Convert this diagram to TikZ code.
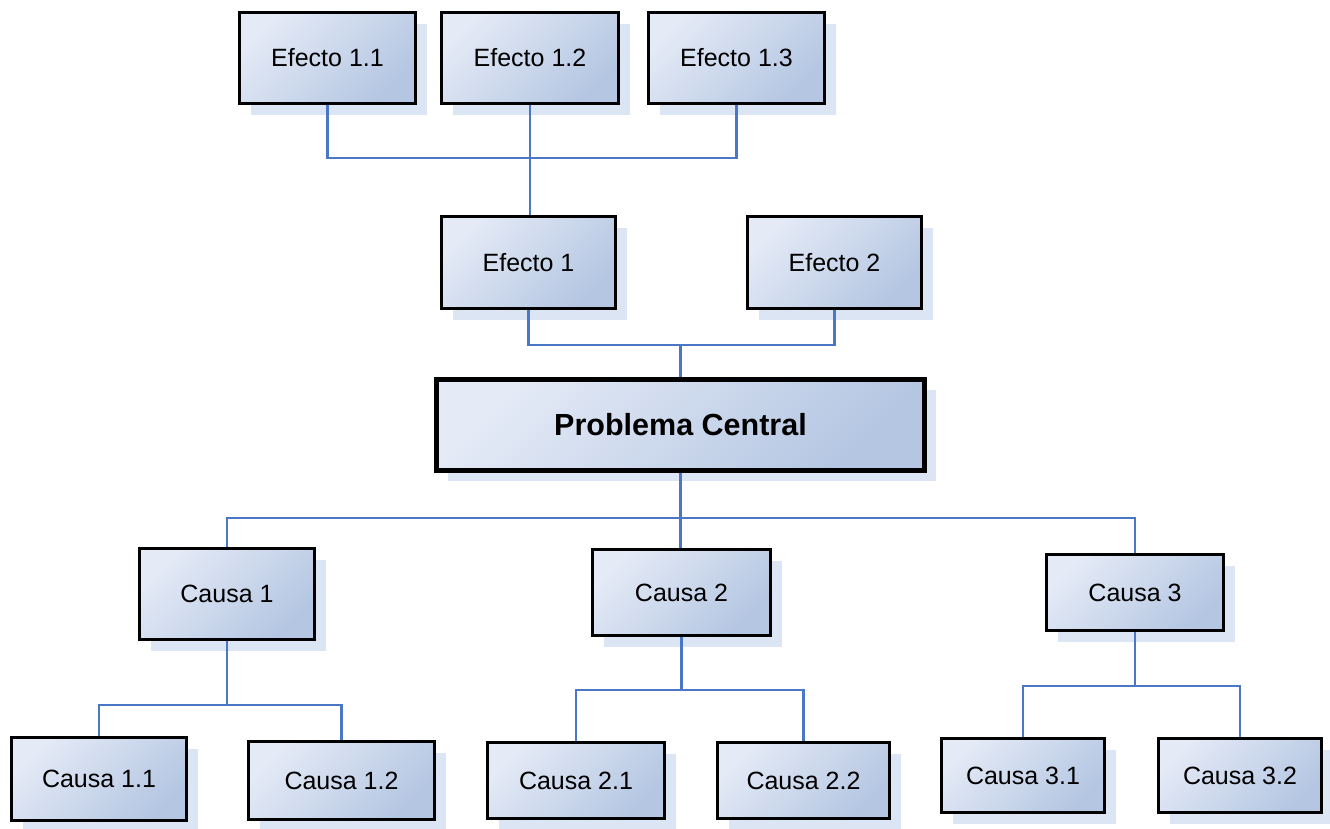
\documentclass[tikz,border=0pt]{standalone}
\usepackage{fontspec}
\setmainfont{Liberation Sans}
\usetikzlibrary{shadows}
\definecolor{boxlight}{HTML}{E4EAF6}
\definecolor{boxdark}{HTML}{B4C6E2}
\definecolor{shadowblue}{HTML}{DCE5F3}
\definecolor{linkblue}{HTML}{4A78C6}
\tikzset{
  box/.style n args={2}{draw=black, line width=3pt,
    top color=boxlight, bottom color=boxdark, shading angle=45,
    drop shadow={shadow xshift=11pt, shadow yshift=-11pt, fill=shadowblue, opacity=1},
    font=\fontsize{25}{29}\selectfont, inner sep=0pt,
    minimum width=#1pt, minimum height=#2pt},
  mainbox/.style n args={2}{box={#1}{#2}, line width=5pt,
    font=\fontsize{30.5}{35}\selectfont\bfseries},
  link/.style={draw=linkblue, line width=2.8pt}
}
\begin{document}
\begin{tikzpicture}[x=1pt, y=-1pt]
\useasboundingbox (0,0) rectangle (1330,828);

% effects
\node[box={176}{91}] (e11) at (327.5,58) {Efecto 1.1};
\node[box={177}{91}] (e12) at (530,58) {Efecto 1.2};
\node[box={176}{91}] (e13) at (736.5,58) {Efecto 1.3};
\node[box={174}{92}] (e1) at (528.5,262.5) {Efecto 1};
\node[box={174}{92}] (e2) at (834.5,262.5) {Efecto 2};

% central problem
\node[mainbox={488}{91}] (pc) at (680.5,424.5) {Problema Central};

% causes
\node[box={175}{91}] (c1) at (227,594) {Causa 1};
\node[box={178}{86}] (c2) at (681.5,592.5) {Causa 2};
\node[box={177}{76}] (c3) at (1135,592.5) {Causa 3};
\node[box={175}{83}] (c11) at (99,779) {Causa 1.1};
\node[box={186}{78}] (c12) at (341.5,780.5) {Causa 1.2};
\node[box={177}{76}] (c21) at (576,780.5) {Causa 2.1};
\node[box={172}{76}] (c22) at (803.5,780.5) {Causa 2.2};
\node[box={163}{74}] (c31) at (1023,775.5) {Causa 3.1};
\node[box={163}{74}] (c32) at (1240,775.5) {Causa 3.2};

% effect links
\draw[link] (e11.south) -- (e11.south |- 0,158) -| (e13.south);
\draw[link] (e12.south) -- (e12.south |- e1.north);
\draw[link] (e1.south) -- (e1.south |- 0,345) -| (e2.south);
\draw[link] (pc.north |- 0,345) -- (pc.north);

% cause links
\draw[link] (pc.south) -- (pc.south |- c2.north);
\draw[link] (c1.north) -- (c1.north |- 0,518) -| (c3.north);
\draw[link] (c1.south) -- (c1.south |- 0,705);
\draw[link] (c11.north) |- (c1.south |- 0,705) -| (c12.north);
\draw[link] (c2.south) -- (c2.south |- 0,690);
\draw[link] (c21.north) |- (c2.south |- 0,690) -| (c22.north);
\draw[link] (c3.south) -- (c3.south |- 0,686);
\draw[link] (c31.north) |- (c3.south |- 0,686) -| (c32.north);
\end{tikzpicture}
\end{document}
